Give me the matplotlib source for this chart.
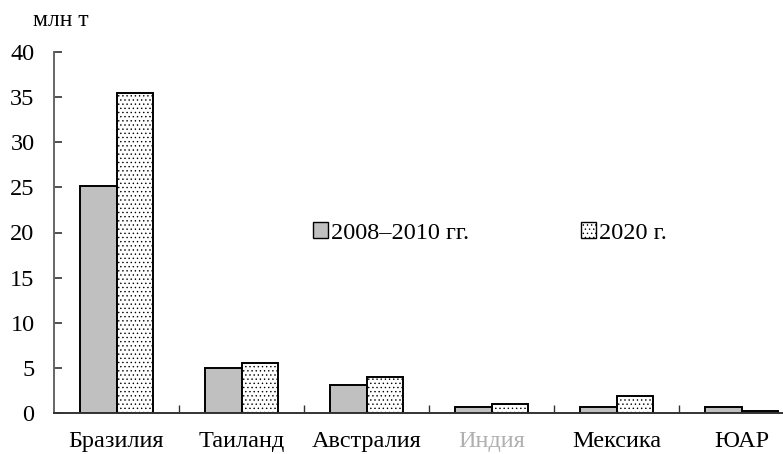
import numpy as np
import matplotlib.pyplot as plt
from matplotlib.patches import Patch

countries = ["Бразилия", "Таиланд", "Австралия", "Индия", "Мексика", "ЮАР"]
base_2008_2010 = [25.2, 5.0, 3.1, 0.7, 0.7, 0.7]
value_2020 = [35.5, 5.5, 4.0, 1.0, 1.9, 0.2]
y_ticks = [0, 5, 10, 15, 20, 25, 30, 35, 40]
label_colors = ["black", "black", "black", "#b0b0b0", "black", "black"]

plt.rcParams["font.family"] = ["Liberation Serif", "DejaVu Serif"]
plt.rcParams["hatch.color"] = "#a0a0a0"
plt.rcParams["hatch.linewidth"] = 0.5

FS = 17.5

fig = plt.figure(figsize=(7.83, 4.54), dpi=100)
# axes deliberately runs past the right edge, as in the original
ax = fig.add_axes([54 / 783, 41 / 454, 750 / 783, 361 / 454])

x = np.arange(len(countries)) + 0.5
w = 0.29
ax.bar(x - w / 2, base_2008_2010, w, color="#c0c0c0", edgecolor="black", linewidth=1.4,
       label="2008–2010 гг.")
ax.bar(x + w / 2, value_2020, w, color="white", edgecolor="black", linewidth=1.4,
       hatch="....", label="2020 г.")

ax.set_xlim(0, len(countries))
ax.set_ylim(0, 40)
ax.set_yticks(y_ticks)
ax.tick_params(axis="y", direction="in", length=6, width=1.2, color="#333333",
               labelsize=FS, pad=14)

ax.set_xticks(x)
ax.set_xticklabels(countries, fontsize=FS)
for lbl, c in zip(ax.get_xticklabels(), label_colors):
    lbl.set_color(c)
ax.tick_params(axis="x", which="major", length=0, pad=13)
ax.set_xticks(np.arange(1, len(countries)), minor=True)
ax.tick_params(axis="x", which="minor", direction="in", length=6, width=1.0, color="#333333")

for s in ["top", "right"]:
    ax.spines[s].set_visible(False)
ax.spines["left"].set_color("#666666")
ax.spines["left"].set_linewidth(1.4)
ax.spines["bottom"].set_color("#333333")
ax.spines["bottom"].set_linewidth(1.4)

fig.text(33 / 783, 1 - 20 / 454, "млн т", fontsize=17, ha="left", va="center")

handles = [Patch(facecolor="#c0c0c0", edgecolor="black", linewidth=1.0, label="2008–2010 гг."),
           Patch(facecolor="white", edgecolor="black", linewidth=1.0, hatch="....", label="2020 г.")]
fig.legend(handles=handles, loc="center left", bbox_to_anchor=(313 / 783, 1 - 233 / 454),
           ncol=2, frameon=False, fontsize=FS, handlelength=0.6, handleheight=0.6,
           handletextpad=0.15, columnspacing=4.6, borderaxespad=0, borderpad=0)

fig.savefig("out.png", dpi=100)
